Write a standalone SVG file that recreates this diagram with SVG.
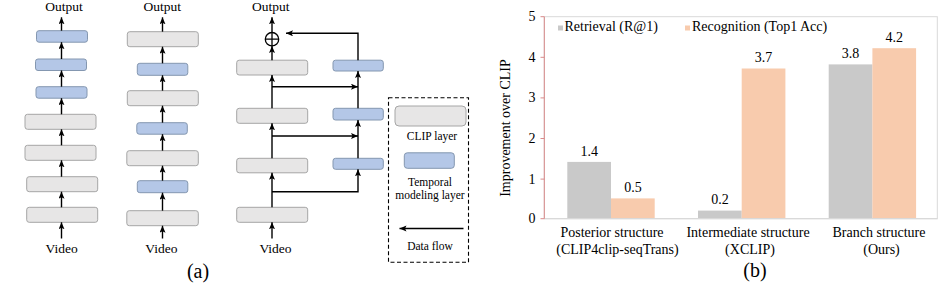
<svg xmlns="http://www.w3.org/2000/svg" width="952" height="286" viewBox="0 0 952 286">
<style>
text{font-family:"Liberation Serif","Times New Roman",serif;fill:#000}
.t13{font-size:13.5px;text-anchor:middle}
.t11{font-size:11.5px;text-anchor:middle}
.t14{font-size:14px}
.mid{text-anchor:middle}
.end{text-anchor:end}
.cap{font-size:20px;text-anchor:middle}
.clip{fill:#e7e6e6;stroke:#a6a6a6;stroke-width:1}
.tmp{fill:#b4c7e7;stroke:#8497b0;stroke-width:1}
.ln{fill:none;stroke:#000;stroke-width:1.4}
.ar{fill:none;stroke:#000;stroke-width:1.4;marker-end:url(#ah)}
.rb{fill:#c9c9c9}
.pb{fill:#f8cbad}
</style>
<defs>
<marker id="ah" markerUnits="userSpaceOnUse" markerWidth="8" markerHeight="7" refX="7" refY="3" orient="auto">
<path d="M0,0 L7,3 L0,6 L1.5,3 z" fill="#000"/>
</marker>
</defs>

<!-- Column 1: posterior -->
<g id="col1">
<text class="t13" x="64" y="10.8">Output</text>
<rect id="c1b1" class="tmp" x="36.5" y="30.7" width="51" height="11.5" rx="2.5"/>
<rect id="c1b2" class="tmp" x="35.5" y="59" width="51" height="11.5" rx="2.5"/>
<rect id="c1b3" class="tmp" x="36" y="86.7" width="51" height="11.5" rx="2.5"/>
<rect id="c1g1" class="clip" x="25" y="114.3" width="71" height="15" rx="2.5"/>
<rect id="c1g2" class="clip" x="25" y="145.3" width="71" height="15" rx="2.5"/>
<rect id="c1g3" class="clip" x="26.7" y="176.7" width="71" height="15" rx="2.5"/>
<rect id="c1g4" class="clip" x="26.7" y="207.3" width="71" height="15" rx="2.5"/>
<text class="t13" x="61.7" y="252.5">Video</text>
</g>

<!-- Column 2: intermediate -->
<g id="col2">
<text class="t13" x="162.2" y="10.8">Output</text>
<rect id="c2g1" class="clip" x="127.3" y="31.7" width="71" height="15" rx="2.5"/>
<rect id="c2b1" class="tmp" x="137.3" y="63.3" width="50.5" height="12" rx="2.5"/>
<rect id="c2g2" class="clip" x="127.3" y="90.7" width="71" height="15" rx="2.5"/>
<rect id="c2b2" class="tmp" x="136.8" y="122.7" width="50.5" height="11.5" rx="2.5"/>
<rect id="c2g3" class="clip" x="126.8" y="150.7" width="71.5" height="15" rx="2.5"/>
<rect id="c2b3" class="tmp" x="137.3" y="180.7" width="50.5" height="12" rx="2.5"/>
<rect id="c2g4" class="clip" x="126.8" y="210.7" width="71.5" height="15" rx="2.5"/>
<text class="t13" x="161.3" y="252.5">Video</text>
</g>

<!-- Column 3: branch -->
<g id="col3">
<text class="t13" x="270.8" y="10.8">Output</text>
<g id="sum">
<circle cx="272" cy="39.2" r="6.7" fill="#fff" stroke="#000" stroke-width="1.3"/>
<path d="M265.3,39.2 H278.7 M272,32.5 V45.9" stroke="#000" stroke-width="1.3"/>
</g>
<rect id="c3g1" class="clip" x="236.7" y="60.2" width="71" height="14.8" rx="2.5"/>
<rect id="c3g2" class="clip" x="236.7" y="108.3" width="71" height="15" rx="2.5"/>
<rect id="c3g3" class="clip" x="236.7" y="158.3" width="71" height="14.5" rx="2.5"/>
<rect id="c3g4" class="clip" x="236.7" y="207.3" width="71" height="15" rx="2.5"/>
<rect id="c3b1" class="tmp" x="333" y="60.2" width="50.3" height="10.8" rx="2.5"/>
<rect id="c3b2" class="tmp" x="333" y="108.3" width="50.3" height="11.7" rx="2.5"/>
<rect id="c3b3" class="tmp" x="333" y="158.3" width="50.3" height="11" rx="2.5"/>
<text class="t13" x="275.5" y="252.5">Video</text>
</g>

<!-- Legend -->
<g id="legend">
<rect x="388.5" y="97.7" width="80" height="164.5" fill="none" stroke="#000" stroke-width="1.1" stroke-dasharray="4,2.5"/>
<rect id="lg-clip" class="clip" x="395" y="106" width="71" height="20" rx="4"/>
<text class="t11" x="432" y="140">CLIP layer</text>
<rect id="lg-tmp" class="tmp" x="404.3" y="152.8" width="50" height="15.5" rx="3"/>
<text class="t11" x="430" y="186">Temporal</text>
<text class="t11" x="430" y="199">modeling layer</text>
<path class="ar" d="M463.5,228.5 H399.5"/>
<text class="t11" x="430" y="250">Data flow</text>
</g>

<!-- Connectors -->
<g id="connectors">
<path class="ar" d="M61.5,30.7 V17.3"/>
<path class="ar" d="M61.5,59 V42.2"/>
<path class="ar" d="M61.5,86.7 V70.5"/>
<path class="ar" d="M61.5,114.3 V98.2"/>
<path class="ar" d="M61.5,145.3 V129.3"/>
<path class="ar" d="M61.5,176.7 V160.3"/>
<path class="ar" d="M61.5,207.3 V191.7"/>
<path class="ar" d="M61.5,238.5 V222.3"/>

<path class="ar" d="M162.5,31.7 V17.3"/>
<path class="ar" d="M162.5,63.3 V46.7"/>
<path class="ar" d="M162.5,90.7 V75.3"/>
<path class="ar" d="M162.5,122.7 V105.7"/>
<path class="ar" d="M162.5,150.7 V134.2"/>
<path class="ar" d="M162.5,180.7 V165.7"/>
<path class="ar" d="M162.5,210.7 V192.7"/>
<path class="ar" d="M162.5,238.5 V225.7"/>

<path class="ar" d="M272,32.5 V17.3"/>
<path class="ar" d="M272,60.2 V45.9"/>
<path class="ar" d="M272,108.3 V75"/>
<path class="ar" d="M272,158.3 V123.3"/>
<path class="ar" d="M272,207.3 V172.8"/>
<path class="ar" d="M272,238.5 V222.3"/>
<path class="ar" d="M358,60.2 V33.3 H286"/>
<path class="ar" d="M358,108.3 V71"/>
<path class="ar" d="M358,158.3 V120"/>
<path class="ar" d="M272,191.7 H358 V169.3"/>
<path class="ar" d="M272,136 H358"/>
<path class="ar" d="M272,86.7 H358"/>
</g>

<text class="cap" x="198" y="278">(a)</text>

<!-- Chart (b) -->
<g id="chart">
<rect x="544.3" y="16.7" width="393" height="202" fill="none" stroke="#d9d9d9" stroke-width="1"/>
<g id="bars">
<rect class="rb" x="567.3" y="161.9" width="43.7" height="56.8"/>
<rect class="pb" x="611" y="198.4" width="43.7" height="20.3"/>
<rect class="rb" x="698" y="210.6" width="43.7" height="8.1"/>
<rect class="pb" x="741.7" y="68.5" width="43.7" height="150.2"/>
<rect class="rb" x="828.7" y="64.4" width="43.7" height="154.3"/>
<rect class="pb" x="872.4" y="48.2" width="43.7" height="170.5"/>
</g>
<path d="M544.3,218.7 H937.3" stroke="#d9d9d9" stroke-width="1.3"/>
<path d="M544.3,16.7 V218.7 M540.5,16.7 H544.3 M540.5,57.3 H544.3 M540.5,97.9 H544.3 M540.5,138.5 H544.3 M540.5,179.1 H544.3 M540.5,218.7 H544.3" stroke="#d98a8a" stroke-width="1"/>
<g class="t14">
<text class="end" x="535.5" y="21.2">5</text>
<text class="end" x="535.5" y="61.8">4</text>
<text class="end" x="535.5" y="102.4">3</text>
<text class="end" x="535.5" y="143">2</text>
<text class="end" x="535.5" y="183.6">1</text>
<text class="end" x="535.5" y="223.2">0</text>
<text class="mid" x="589.2" y="155.5">1.4</text>
<text class="mid" x="632.9" y="192">0.5</text>
<text class="mid" x="719.9" y="204.2">0.2</text>
<text class="mid" x="763.6" y="62">3.7</text>
<text class="mid" x="850.6" y="58">3.8</text>
<text class="mid" x="894.3" y="41.8">4.2</text>
<text class="mid" x="612" y="237">Posterior structure</text>
<text class="mid" x="617.5" y="253.5">(CLIP4clip-seqTrans)</text>
<text class="mid" x="748" y="237">Intermediate structure</text>
<text class="mid" x="750" y="253.5">(XCLIP)</text>
<text class="mid" x="879" y="237">Branch structure</text>
<text class="mid" x="881.5" y="253.5">(Ours)</text>
<text class="mid" transform="translate(509.5,128) rotate(-90)">Improvement over CLIP</text>
</g>
<g id="chart-legend">
<rect class="rb" x="558" y="25.5" width="5" height="5"/>
<text class="t14" x="564.5" y="30.5">Retrieval (R@1)</text>
<rect class="pb" x="685" y="25.5" width="5" height="5"/>
<text class="t14" x="692" y="30.5">Recognition (Top1 Acc)</text>
</g>
<text class="cap" x="755" y="277">(b)</text>
</g>
</svg>
